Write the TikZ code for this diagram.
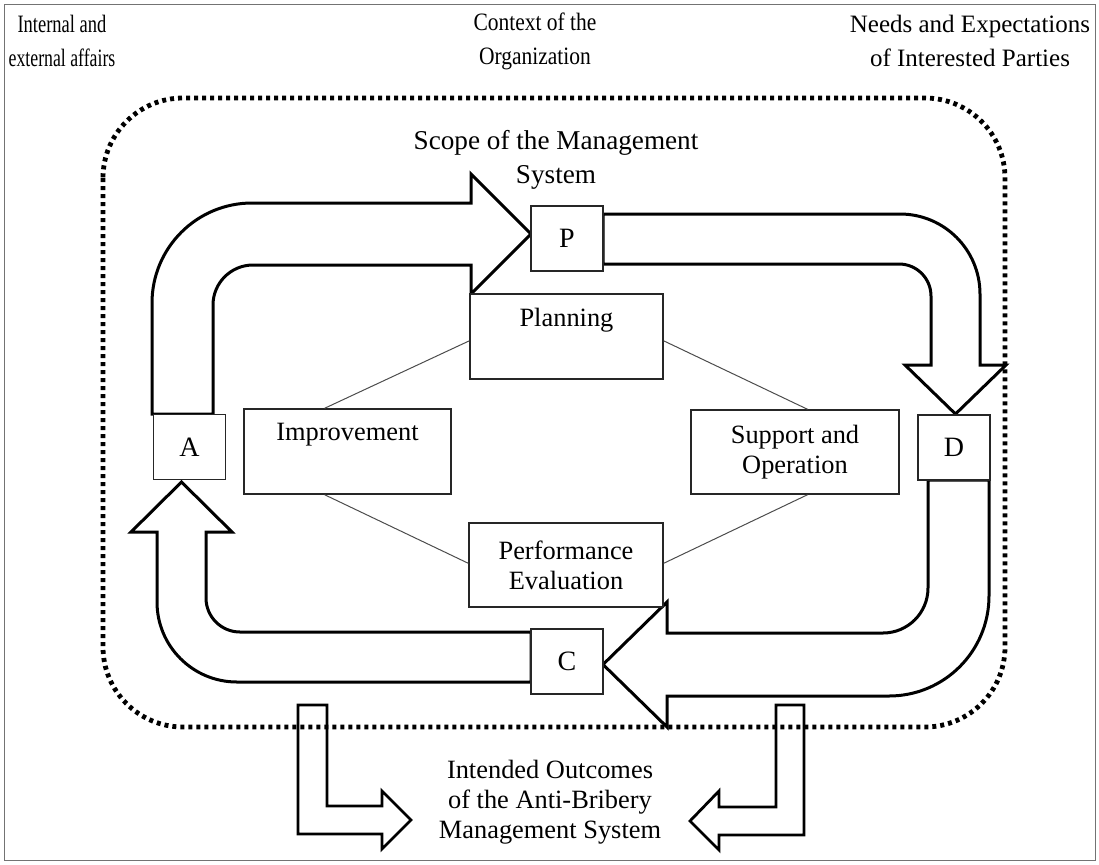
\documentclass[tikz,border=0pt]{standalone}
\usepackage{fontspec}
\setmainfont{Liberation Serif}
\usetikzlibrary{calc}
\begin{document}
\begin{tikzpicture}[x=0.5pt, y=-0.5pt,
  flow/.style={draw=black, line width=1.5pt, fill=white, line join=miter},
  outarrow/.style={draw=black, line width=1.4pt, line join=miter},
  stage/.style={draw=black!85, line width=0.7pt, fill=white, align=center,
    inner sep=0pt, font=\fontsize{13.2}{15}\selectfont},
  letter/.style={draw=black!85, line width=0.7pt, fill=white, inner sep=0pt,
    minimum width=36pt, minimum height=32.5pt, font=\fontsize{14}{15}\selectfont},
  link/.style={draw=black!70, line width=0.5pt},
  caption/.style={align=center, inner sep=0pt, font=\fontsize{13.2}{15}\selectfont},
  headtext/.style={align=center, inner sep=0pt, font=\fontsize{12.5}{17}\selectfont},
  dotline/.style={draw=black, line width=2.4pt, dash pattern=on 2pt off 2pt}
]
% canvas and frame
\useasboundingbox (0,0) rectangle (1099,864);
\draw[black!55, line width=0.5pt] (4,4) rectangle (1095,860);

% headings
\node[headtext] (inout) at (62,41) {\scalebox{0.74}[1]{Internal and}\\\scalebox{0.71}[1]{external affairs}};
\node[headtext] (context) at (535,41) {\scalebox{0.86}[1]{Context of the}\\\scalebox{0.86}[1]{Organization}};
\node[headtext] (needs) at (970,41) {Needs and Expectations\\of Interested Parties};
\node[headtext, font=\fontsize{13.6}{17}\selectfont] (scope) at (556,160) {Scope of the Management\\System};

% A -> P
\draw[flow] (152,414) -- (152,303) arc[start angle=180, end angle=270, radius=100]
  -- (471,203) -- (471,174) -- (531,234) -- (471,294) -- (471,265)
  -- (253,265) arc[start angle=270, end angle=180, radius=40] -- (213,414) -- cycle;
% P -> D
\draw[flow] (603,214) -- (900,214) arc[start angle=270, end angle=360, radius=80]
  -- (980,365) -- (1006,365) -- (955.5,414) -- (905,365) -- (931,365)
  -- (931,296) arc[start angle=0, end angle=-90, radius=32] -- (603,264) -- cycle;
% D -> C
\draw[flow] (989,480) -- (989,596) arc[start angle=0, end angle=90, radius=100]
  -- (667,696) -- (667,727) -- (603,664.5) -- (667,602) -- (667,633)
  -- (883,633) arc[start angle=90, end angle=0, radius=45] -- (928,480) -- cycle;
% C -> A
\draw[flow] (531,682) -- (237,682) arc[start angle=90, end angle=180, radius=80]
  -- (157,532) -- (131,532) -- (181.5,482) -- (232,532) -- (206,532)
  -- (206,598) arc[start angle=180, end angle=90, radius=34] -- (531,632) -- cycle;

% PDCA letters
\node[letter] (P) at (567,238.5) {P};
\node[letter] (A) at (189.5,447) {A};
\node[letter] (D) at (954,447.5) {D};
\node[letter] (C) at (567,661.5) {C};

% clause boxes
\node[stage, minimum width=96.5pt, minimum height=42.5pt] (plan) at (566.5,336.5) {Planning\\\strut};
\node[stage, minimum width=103.5pt, minimum height=42.5pt] (impr) at (347.5,451.5) {Improvement\\\strut};
\node[stage, minimum width=104pt, minimum height=42pt] (supp) at (795,452) {Support and\\Operation};
\node[stage, minimum width=97pt, minimum height=42pt] (perf) at (566,565) {Performance\\Evaluation};

\draw[link] ($(plan.north west)!0.55!(plan.south west)$) -- ($(impr.north west)!0.39!(impr.north east)$);
\draw[link] ($(plan.north east)!0.55!(plan.south east)$) -- ($(supp.north west)!0.56!(supp.north east)$);
\draw[link] ($(impr.south west)!0.39!(impr.south east)$) -- ($(perf.north west)!0.48!(perf.south west)$);
\draw[link] ($(supp.south west)!0.56!(supp.south east)$) -- ($(perf.north east)!0.48!(perf.south east)$);

% outputs
\node[caption] (outcomes) at (550,802) {Intended Outcomes\\of the Anti-Bribery\\Management System};
\draw[outarrow] (298,705) -- (298,834) -- (382,834) -- (382,849) -- (411,820)
  -- (382,791) -- (382,806) -- (327,806) -- (327,705) -- cycle;
\draw[outarrow] (804,705) -- (804,835) -- (719,835) -- (719,850) -- (690,821)
  -- (719,791) -- (719,807) -- (776,807) -- (776,705) -- cycle;

% boundary of the management system
\draw[dotline, rounded corners=40pt] (103,98) rectangle (1005,727);
\end{tikzpicture}
\end{document}
